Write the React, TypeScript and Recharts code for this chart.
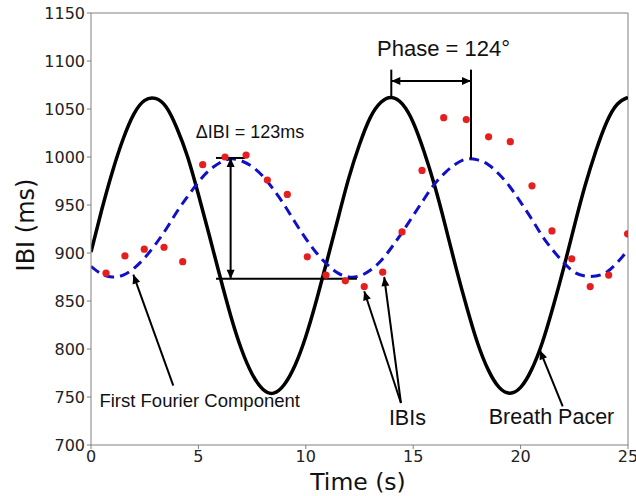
import React from 'react';
import {
  ComposedChart,
  Line,
  Scatter,
  XAxis,
  YAxis,
  ReferenceLine,
  ReferenceDot,
} from 'recharts';

// time samples for the two fitted curves (s)
const curveTimes = [
  0, 0.5, 1, 1.5, 2, 2.5, 3, 3.5, 4, 4.5, 5, 5.5, 6, 6.5, 7, 7.5, 8, 8.5, 9, 9.5,
  10, 10.5, 11, 11.5, 12, 12.5, 13, 13.5, 14, 14.5, 15, 15.5, 16, 16.5, 17, 17.5,
  18, 18.5, 19, 19.5, 20, 20.5, 21, 21.5, 22, 22.5, 23, 23.5, 24, 24.5, 25,
];

// breath pacer (ms)
const pacerValues = [
  901, 945, 985, 1019, 1045, 1059, 1061, 1052, 1030, 1000, 961, 919, 876, 835, 800,
  774, 758, 754, 763, 783, 813, 851, 893, 936, 978, 1013, 1041, 1057, 1062, 1055,
  1036, 1006, 970, 928, 884, 843, 806, 778, 760, 754, 760, 778, 806, 843, 884, 928,
  970, 1006, 1036, 1055, 1062,
];

// first fourier component (ms)
const fourierValues = [
  886, 878, 875, 877, 884, 895, 909, 925, 943, 959, 974, 986, 994, 998, 996, 990,
  980, 966, 950, 932, 915, 900, 888, 879, 875, 876, 882, 892, 906, 922, 939, 956,
  972, 984, 993, 998, 997, 992, 982, 969, 953, 936, 918, 903, 890, 880, 876, 876,
  880, 890, 903,
];

// measured IBIs
const ibiTimes = [
  0.7, 1.58, 2.48, 3.4, 4.27, 5.2, 6.24, 7.22, 8.21, 9.14, 10.07, 10.94, 11.84,
  12.72, 13.58, 14.48, 15.41, 16.42, 17.47, 18.51, 19.52, 20.53, 21.46, 22.38,
  23.24, 24.1, 24.98,
];
const ibiValues = [
  879, 897, 904, 906, 891, 992, 1000, 1002, 976, 961, 896, 877, 871, 865, 880,
  922, 986, 1041, 1039, 1021, 1016, 970, 923, 894, 865, 877, 920,
];

const xTicks = [0, 5, 10, 15, 20, 25];
const yTicks = [700, 750, 800, 850, 900, 950, 1000, 1050, 1100, 1150];

const pacerData = curveTimes.map((t, i) => ({ x: t, y: pacerValues[i] }));
const fourierData = curveTimes.map((t, i) => ({ x: t, y: fourierValues[i] }));
const ibiData = ibiTimes.map((t, i) => ({ x: t, y: ibiValues[i] }));

const AXIS_FONT = '"DejaVu Sans", sans-serif';
const NOTE_FONT = '"Liberation Sans", Arial, sans-serif';

function head(x1: number, y1: number, x2: number, y2: number) {
  const a = Math.atan2(y2 - y1, x2 - x1);
  const L = 9;
  const W = 4;
  const bx = x2 - L * Math.cos(a);
  const by = y2 - L * Math.sin(a);
  const px = -Math.sin(a) * W;
  const py = Math.cos(a) * W;
  return `${x2},${y2} ${bx + px},${by + py} ${bx - px},${by - py}`;
}

const arrow = (heads: 'none' | 'end' | 'both') => (p: any) => {
  const { x1, y1, x2, y2 } = p;
  return (
    <g>
      <line x1={x1} y1={y1} x2={x2} y2={y2} stroke="#000" strokeWidth={2} />
      {heads !== 'none' && <polygon points={head(x1, y1, x2, y2)} fill="#000" />}
      {heads === 'both' && <polygon points={head(x2, y2, x1, y1)} fill="#000" />}
    </g>
  );
};

const note = (text: string, size: number) => (p: any) => (
  <text
    x={p.cx}
    y={p.cy}
    textAnchor="middle"
    dominantBaseline="central"
    fontSize={size}
    fontFamily={NOTE_FONT}
    fill="#111"
  >
    {text}
  </text>
);

export default function App() {
  return (
    <div style={{ position: 'absolute', left: 0, top: 0 }}>
      <ComposedChart
        width={636}
        height={496}
        margin={{ top: 13, right: 8, bottom: 0, left: 0 }}
        style={{ fontFamily: AXIS_FONT }}
      >
        <XAxis
          type="number"
          dataKey="x"
          domain={[0, 25]}
          ticks={xTicks}
          allowDataOverflow
          height={51}
          stroke="#808080"
          tickSize={4}
          tick={{ fill: '#222', fontSize: 16, fontFamily: AXIS_FONT }}
          label={{
            content: () => (
              <text x={358} y={482} textAnchor="middle" dominantBaseline="central" fontSize={23.5} fill="#111" fontFamily={AXIS_FONT}>
                Time (s)
              </text>
            ),
          }}
        />
        <YAxis
          type="number"
          dataKey="y"
          domain={[700, 1150]}
          ticks={yTicks}
          allowDataOverflow
          width={91}
          stroke="#808080"
          tickSize={4}
          tick={{ fill: '#222', fontSize: 16, fontFamily: AXIS_FONT }}
          label={{
            content: () => (
              <text
                x={26}
                y={225}
                textAnchor="middle"
                dominantBaseline="central"
                fontSize={24}
                fill="#111"
                fontFamily={AXIS_FONT}
                transform="rotate(-90 26 225)"
              >
                IBI (ms)
              </text>
            ),
          }}
        />
        <ReferenceLine y={1150} stroke="#808080" />
        <ReferenceLine x={25} stroke="#808080" />

        <Line
          data={pacerData}
          dataKey="y"
          type="natural"
          stroke="#000"
          strokeWidth={3.5}
          dot={false}
          isAnimationActive={false}
        />
        <Line
          data={fourierData}
          dataKey="y"
          type="natural"
          stroke="#1010c8"
          strokeWidth={3}
          strokeDasharray="10 6"
          dot={false}
          isAnimationActive={false}
        />
        <Scatter
          data={ibiData}
          dataKey="y"
          isAnimationActive={false}
          shape={(p: any) => <circle cx={p.cx} cy={p.cy} r={3.6} fill="#e51e1e" />}
        />

        {/* delta IBI */}
        <ReferenceLine segment={[{ x: 5.82, y: 999 }, { x: 7.17, y: 999 }]} shape={arrow('none')} />
        <ReferenceLine segment={[{ x: 5.82, y: 873.3 }, { x: 12.38, y: 873.3 }]} shape={arrow('none')} />
        <ReferenceLine segment={[{ x: 6.5, y: 999 }, { x: 6.5, y: 873.3 }]} shape={arrow('both')} />
        <ReferenceDot x={7.4} y={1026} r={0} shape={note('ΔIBI = 123ms', 18)} ifOverflow="visible" />

        {/* phase */}
        <ReferenceLine segment={[{ x: 13.98, y: 1091 }, { x: 13.98, y: 1062 }]} shape={arrow('none')} />
        <ReferenceLine segment={[{ x: 17.69, y: 1091 }, { x: 17.69, y: 998 }]} shape={arrow('none')} />
        <ReferenceLine segment={[{ x: 13.98, y: 1079.2 }, { x: 17.69, y: 1079.2 }]} shape={arrow('both')} />
        <ReferenceDot x={16.41} y={1112.9} r={0} shape={note('Phase = 124°', 22)} ifOverflow="visible" />

        {/* pointers */}
        <ReferenceLine segment={[{ x: 3.83, y: 761.9 }, { x: 1.97, y: 877.5 }]} shape={arrow('end')} />
        <ReferenceDot x={5.06} y={746.6} r={0} shape={note('First Fourier Component', 18.5)} ifOverflow="visible" />

        <ReferenceLine segment={[{ x: 14.43, y: 743.75 }, { x: 12.72, y: 860.1 }]} shape={arrow('end')} />
        <ReferenceLine segment={[{ x: 14.43, y: 743.75 }, { x: 13.65, y: 875 }]} shape={arrow('end')} />
        <ReferenceDot x={14.73} y={728.1} r={0} shape={note('IBIs', 21.5)} ifOverflow="visible" />

        <ReferenceLine segment={[{ x: 21.96, y: 740.3 }, { x: 20.9, y: 798.6 }]} shape={arrow('end')} />
        <ReferenceDot x={21.44} y={729.2} r={0} shape={note('Breath Pacer', 21.5)} ifOverflow="visible" />
      </ComposedChart>
    </div>
  );
}
